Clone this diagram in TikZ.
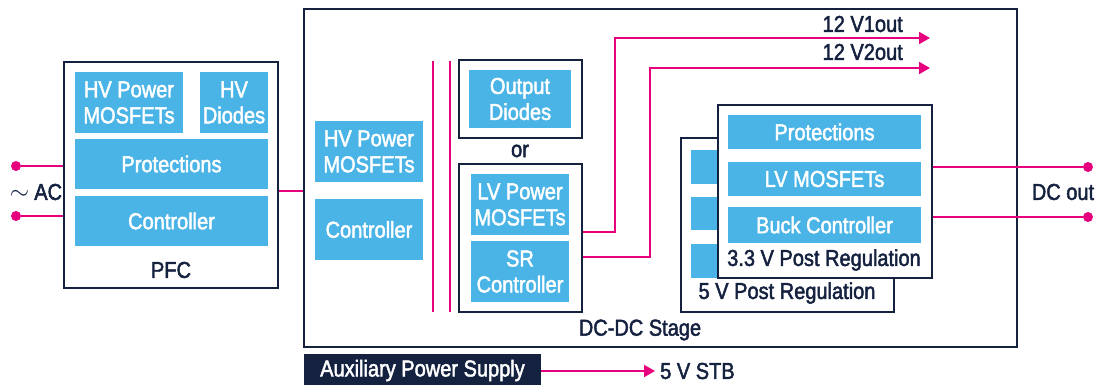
\documentclass[tikz,border=0pt]{standalone}
\usepackage{fontspec}
\setmainfont{Liberation Sans}[FakeStretch=0.87, FakeBold=2]
\usepackage{tikz}
\usetikzlibrary{arrows.meta, positioning, calc}
\usepackage{xcolor}
\definecolor{stblue}{HTML}{4BB4E6}
\definecolor{stnavy}{HTML}{14213F}
\definecolor{stpink}{HTML}{E6007E}

\begin{document}
\begin{tikzpicture}[
    x=1pt, y=-1pt,
    every node/.style={font=\fontsize{23}{26}\selectfont, align=center, inner sep=0pt, text=stnavy},
    blk/.style 2 args={fill=stblue, text=white, minimum width=#1, minimum height=#2},
    frame/.style 2 args={draw=stnavy, line width=2pt, fill=white, minimum width=#1, minimum height=#2},
    wire/.style={draw=stpink, line width=2pt},
    arr/.style={wire, -{Triangle[length=11pt, width=12pt]}},
    dot/.style={circle, fill=stpink, minimum size=10pt}
]
\useasboundingbox (0,0) rectangle (1096,385);

% PFC
\node (pfc) [frame={214}{226}] at (171,175) {};
\node (pfchv) [blk={108}{61}] at (129,102.5) {HV Power\\MOSFETs};
\node (pfcdio) [blk={68}{61}] at (234,102.5) {HV\\Diodes};
\node (pfcprot) [blk={193}{50}] at (171.5,164) {Protections};
\node (pfcctrl) [blk={193}{50}] at (171.5,221) {Controller};
\node (pfclbl) at (171,270) {PFC};

% AC input
\node (acA) [dot] at (16,166) {};
\node (acB) [dot] at (16,216) {};
\node (aclbl) at (36,192) {\fontsize{30}{30}\selectfont$\sim$\,\fontsize{23}{26}\selectfont AC};
\draw[wire] (acA) -- (acA -| pfc.west);
\draw[wire] (acB) -- (acB -| pfc.west);

% DC-DC stage
\node (dcdc) [frame={713}{338}] at (660.5,178) {};
\draw[wire] ([yshift=-16pt]pfc.east) -- ([yshift=-16pt]pfc.east -| dcdc.west);
\node (dchv) [blk={108}{61}] at (369,151.5) {HV Power\\MOSFETs};
\node (dcctrl) [blk={108}{61}] at (369,229.5) {Controller};
\draw[wire] (433,61) -- (433,312);
\draw[wire] (450,61) -- (450,312);

\node (diob) [frame={123}{78}] at (520.5,99) {};
\node (dio) [blk={102}{58}] at (520,99) {Output\\Diodes};
\node (orlbl) at (520,151) {or};
\node (lv) [frame={123}{148}] at (520.5,238) {};
\node (lvfet) [blk={98}{61}] at (520,204.5) {LV Power\\MOSFETs};
\node (sr) [blk={98}{61}] at (520,271.5) {SR\\Controller};

% 12 V outputs
\coordinate (v1) at (930,38);
\coordinate (v2) at (930,68);
\draw[arr] ([yshift=6pt]lv.east) -- ++(32,0) |- (v1);
\draw[arr] ([yshift=-19pt]lv.east) -- ++(67,0) |- (v2);
\node (v1lbl) [anchor=east] at (903,24) {12 V1out};
\node (v2lbl) [anchor=east] at (903,52) {12 V2out};

% post regulation
\node (reg5) [frame={213}{174}] at (787.5,225) {};
\foreach \ya/\yb in {150/184, 197/230, 244/278}
    \fill[stblue] (691,\ya) rectangle (760,\yb);
\node (reg5lbl) at (787,293) {5 V Post Regulation};
\node (reg33) [frame={214}{173}] at (825,191.5) {};
\node (regprot) [blk={193}{34}] at (824.5,132) {Protections};
\node (regfet) [blk={193}{34}] at (824.5,179) {LV MOSFETs};
\node (regbuck) [blk={193}{36}] at (824.5,225) {Buck Controller};
\node (reg33lbl) at (824,260) {3.3 V Post Regulation};
\node (dclbl) at (640,330) {DC-DC Stage};

% DC output
\node (outA) [dot] at (1088,167) {};
\node (outB) [dot] at (1088,217) {};
\node (outlbl) at (1063,192) {DC out};
\draw[wire] (outA) -- (outA -| reg33.east);
\draw[wire] (outB) -- (outB -| reg33.east);

% auxiliary supply
\node (aux) [fill=stnavy, text=white, minimum width=237, minimum height=33] at (422.5,370.5) {Auxiliary Power Supply};
\node (stb) [anchor=west] at (660,371) {5 V STB};
\draw[arr] (stb.west -| aux.east) -- ([xshift=-5pt]stb.west);
\end{tikzpicture}
\end{document}
